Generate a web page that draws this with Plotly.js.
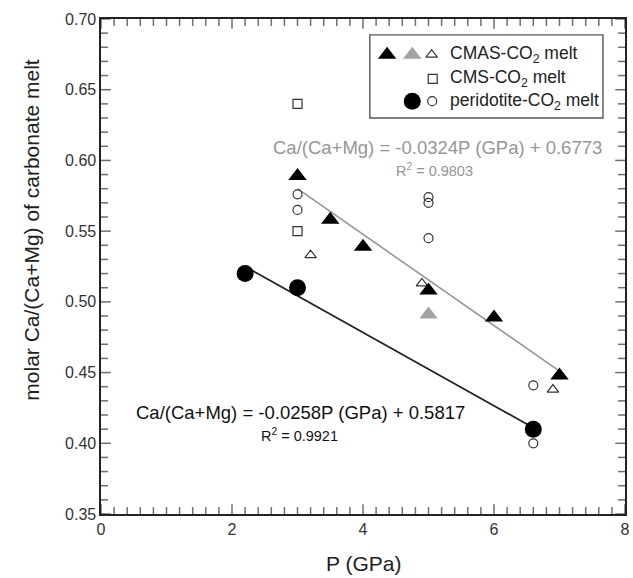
<!DOCTYPE html>
<html>
<head>
<meta charset="utf-8">
<script src="https://cdn.plot.ly/plotly-3.0.1.min.js"></script>
</head>
<body style="margin:0;background:#fff">
<div id="chart"></div>
<script>
// ---- data ----
const cmasBlackP = [3.0, 3.5, 4.0, 5.0, 6.0, 7.0];
const cmasBlackV = [0.589, 0.558, 0.539, 0.508, 0.489, 0.448];
const cmasGrayP = [5.0];
const cmasGrayV = [0.491];
const cmasOpenP = [3.2, 4.9, 6.9];
const cmasOpenV = [0.533, 0.513, 0.438];
const cmsOpenP = [3.0, 3.0];
const cmsOpenV = [0.640, 0.550];
const perFilledP = [2.2, 3.0, 6.6];
const perFilledV = [0.520, 0.510, 0.410];
const perOpenP = [3.0, 3.0, 5.0, 5.0, 5.0, 6.6, 6.6];
const perOpenV = [0.576, 0.565, 0.574, 0.570, 0.545, 0.441, 0.400];
const grayFitP = [3.0, 7.0];
const grayFitV = [0.580, 0.451];
const blackFitP = [2.2, 6.6];
const blackFitV = [0.525, 0.411];
// axis ranges and tick steps
const xRange = [0, 8];
const xMajor = 2, xMinor = 0.2;
const yRange = [0.35, 0.70];
const yMajor = 0.05, yMinor = 0.01;

const FONT = 'Arial, "Liberation Sans", Helvetica, sans-serif';
const GRAY = '#969696';
const TICKC = '#333';
function openLine() { return {color: '#333', width: 1.2}; }

const traces = [
  {x: blackFitP, y: blackFitV, mode: 'lines', line: {color: '#222', width: 1.8}, hoverinfo: 'skip'},
  {x: grayFitP, y: grayFitV, mode: 'lines', line: {color: GRAY, width: 1.6}, hoverinfo: 'skip'},
  {x: cmsOpenP, y: cmsOpenV, mode: 'markers', marker: {symbol: 'square-open', size: 9, color: '#333', line: openLine()}},
  {x: perOpenP, y: perOpenV, mode: 'markers', marker: {symbol: 'circle-open', size: 9, color: '#333', line: openLine()}},
  {x: cmasOpenP, y: cmasOpenV, mode: 'markers', marker: {symbol: 'triangle-up-open', size: 10, color: '#333', line: openLine()}},
  {x: perFilledP, y: perFilledV, mode: 'markers', marker: {symbol: 'circle', size: 17, color: '#000'}},
  {x: cmasGrayP, y: cmasGrayV, mode: 'markers', marker: {symbol: 'triangle-up', size: 16, color: '#a3a3a3'}},
  {x: cmasBlackP, y: cmasBlackV, mode: 'markers', marker: {symbol: 'triangle-up', size: 16, color: '#000'}}
];

// legend key positions in plot-area fractions (0..1)
const legRows = [0.928, 0.879, 0.834];
const legendKeys = [
  {x: 0.546, row: 0, m: {symbol: 'triangle-up', size: 16, color: '#000'}},
  {x: 0.594, row: 0, m: {symbol: 'triangle-up', size: 16, color: '#a3a3a3'}},
  {x: 0.631, row: 0, m: {symbol: 'triangle-up-open', size: 10, color: '#333', line: openLine()}},
  {x: 0.633, row: 1, m: {symbol: 'square-open', size: 9, color: '#333', line: openLine()}},
  {x: 0.594, row: 2, m: {symbol: 'circle', size: 17, color: '#000'}},
  {x: 0.632, row: 2, m: {symbol: 'circle-open', size: 9, color: '#333', line: openLine()}}
];
legendKeys.forEach(k => traces.push({
  x: [xRange[0] + k.x * (xRange[1] - xRange[0])],
  y: [yRange[0] + legRows[k.row] * (yRange[1] - yRange[0])],
  mode: 'markers', marker: k.m, hoverinfo: 'skip'
}));

// inward tick marks on all four sides: line markers centred on the frame,
// clipped by the plot area so only the inner half shows
const MAJ = 7, MIN = 5;
const xt = [], xtSize = [];
const nx = Math.round((xRange[1] - xRange[0]) / xMinor);
const xPerMajor = Math.round(xMajor / xMinor);
for (let i = 0; i <= nx; i++) {
  xt.push(xRange[0] + i * xMinor);
  xtSize.push(2 * ((i % xPerMajor === 0) ? MAJ : MIN));
}
const yt = [], ytSize = [];
const ny = Math.round((yRange[1] - yRange[0]) / yMinor);
const yPerMajor = Math.round(yMajor / yMinor);
for (let i = 0; i <= ny; i++) {
  yt.push(yRange[0] + i * yMinor);
  ytSize.push(2 * ((i % yPerMajor === 0) ? MAJ : MIN));
}
[yRange[0], yRange[1]].forEach(edge => traces.push({
  x: xt, y: xt.map(() => edge), mode: 'markers', hoverinfo: 'skip', cliponaxis: true,
  marker: {symbol: 'line-ns-open', size: xtSize, color: TICKC, line: {color: TICKC, width: 1.5}}
}));
[xRange[0], xRange[1]].forEach(edge => traces.push({
  x: yt.map(() => edge), y: yt, mode: 'markers', hoverinfo: 'skip', cliponaxis: true,
  marker: {symbol: 'line-ew-open', size: ytSize, color: TICKC, line: {color: TICKC, width: 1.5}}
}));

const layout = {
  width: 633, height: 578,
  margin: {l: 101, r: 8, t: 19, b: 64},
  showlegend: false,
  font: {family: FONT},
  xaxis: {
    range: xRange, dtick: xMajor, tick0: 0,
    showline: true, linecolor: '#222', linewidth: 1.6, mirror: true,
    ticks: '', showgrid: false, zeroline: false,
    tickfont: {family: FONT, size: 16, color: '#333'}
  },
  yaxis: {
    range: yRange, dtick: yMajor, tick0: 0.35, tickformat: '.2f',
    showline: true, linecolor: '#222', linewidth: 1.6, mirror: true,
    ticks: '', showgrid: false, zeroline: false,
    tickfont: {family: FONT, size: 16, color: '#333'}
  },
  shapes: [
    {type: 'rect', xref: 'paper', yref: 'paper', x0: 0.513, x1: 0.958, y0: 0.800, y1: 0.968,
     line: {color: '#555', width: 1.4}}
  ],
  annotations: [
    {xref: 'paper', yref: 'paper', x: 0.662, y: legRows[0], xanchor: 'left', yanchor: 'middle', showarrow: false,
     text: 'CMAS-CO<sub>2</sub> melt', font: {family: FONT, size: 17.5, color: '#222'}},
    {xref: 'paper', yref: 'paper', x: 0.662, y: legRows[1], xanchor: 'left', yanchor: 'middle', showarrow: false,
     text: 'CMS-CO<sub>2</sub> melt', font: {family: FONT, size: 17.5, color: '#222'}},
    {xref: 'paper', yref: 'paper', x: 0.662, y: legRows[2], xanchor: 'left', yanchor: 'middle', showarrow: false,
     text: 'peridotite-CO<sub>2</sub> melt', font: {family: FONT, size: 17.5, color: '#222'}},
    {xref: 'paper', yref: 'paper', x: 0.643, y: 0.741, xanchor: 'center', yanchor: 'middle', showarrow: false,
     text: 'Ca/(Ca+Mg) = -0.0324P (GPa) + 0.6773', font: {family: FONT, size: 18.5, color: GRAY}},
    {xref: 'paper', yref: 'paper', x: 0.637, y: 0.695, xanchor: 'center', yanchor: 'middle', showarrow: false,
     text: 'R<sup>2</sup> = 0.9803', font: {family: FONT, size: 14.5, color: GRAY}},
    {xref: 'paper', yref: 'paper', x: 0.380, y: 0.206, xanchor: 'center', yanchor: 'middle', showarrow: false,
     text: 'Ca/(Ca+Mg) = -0.0258P (GPa) + 0.5817', font: {family: FONT, size: 18.5, color: '#111'}},
    {xref: 'paper', yref: 'paper', x: 0.378, y: 0.160, xanchor: 'center', yanchor: 'middle', showarrow: false,
     text: 'R<sup>2</sup> = 0.9921', font: {family: FONT, size: 14.5, color: '#111'}},
    {xref: 'paper', yref: 'paper', x: -0.132, y: 0.574, xanchor: 'center', yanchor: 'middle', showarrow: false,
     textangle: -90, text: 'molar Ca/(Ca+Mg) of carbonate melt', font: {family: FONT, size: 21, color: '#222'}},
    {xref: 'paper', yref: 'paper', x: 0.5, y: -0.099, xanchor: 'center', yanchor: 'middle', showarrow: false,
     text: 'P (GPa)', font: {family: FONT, size: 21, color: '#222'}}
  ]
};

Plotly.newPlot('chart', traces, layout, {staticPlot: true});
</script>
</body>
</html>
